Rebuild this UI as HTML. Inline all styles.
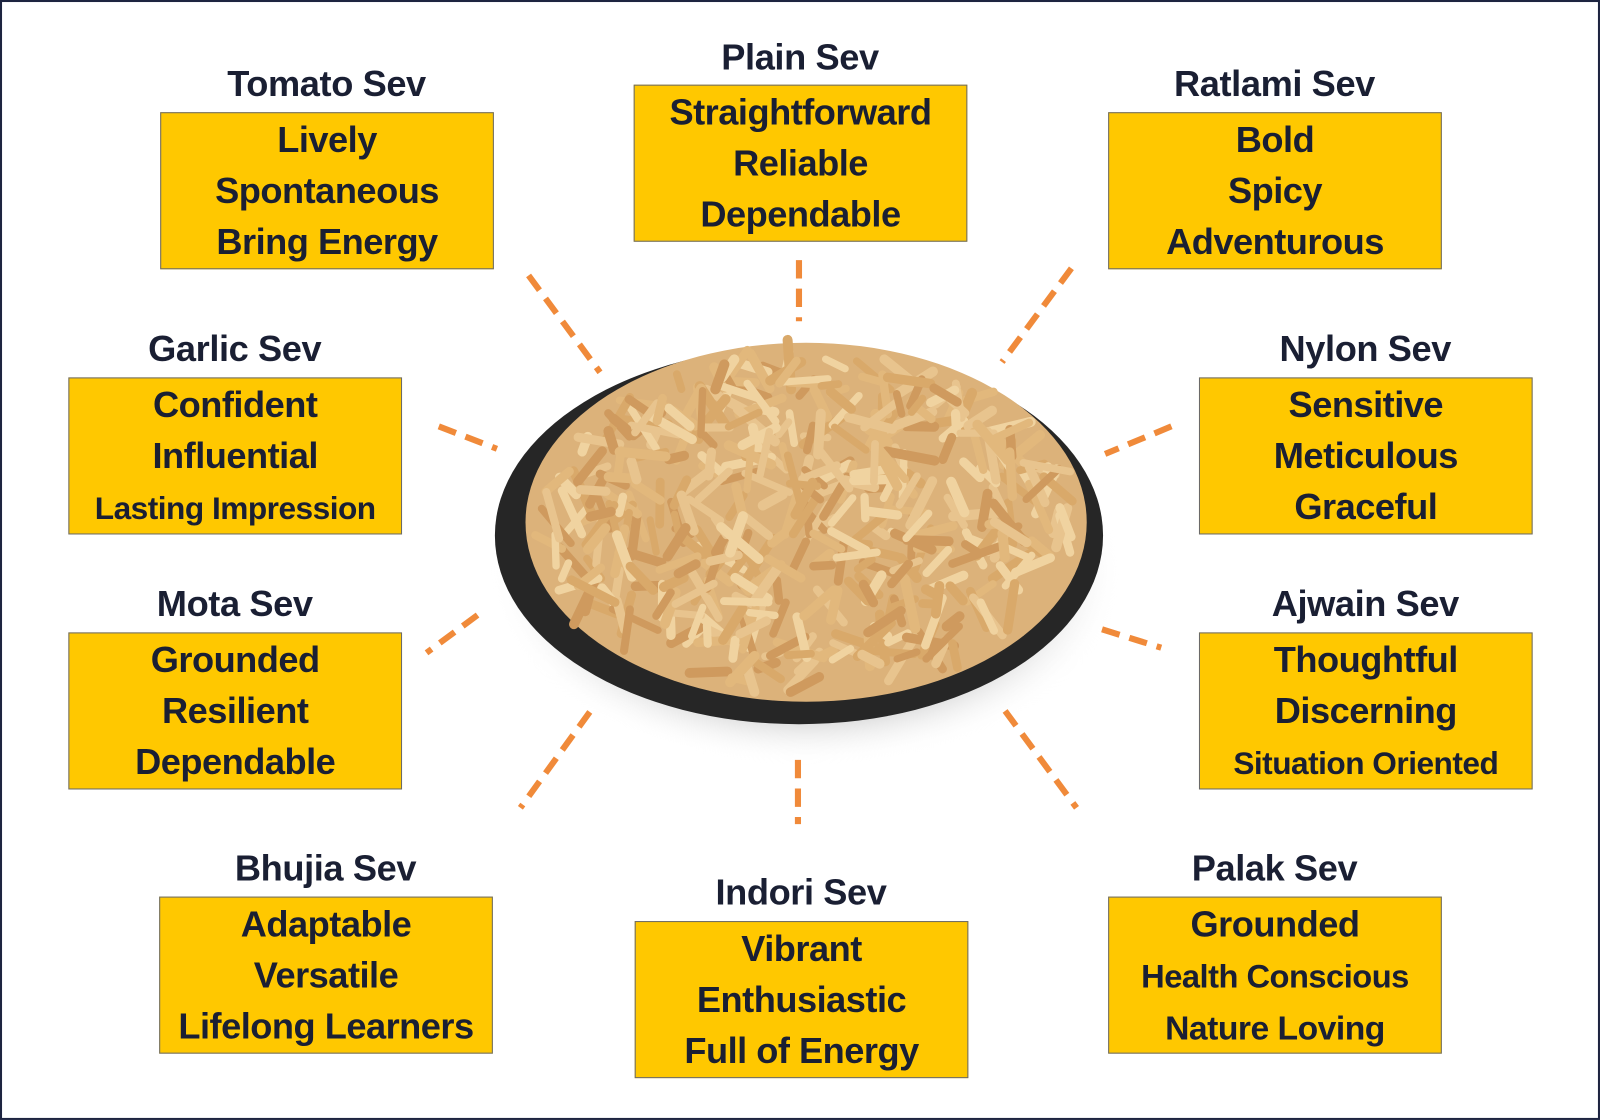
<!DOCTYPE html>
<html><head><meta charset="utf-8"><style>
html,body{margin:0;padding:0;background:#fff;}
#wrap{width:1568px;height:1098px;position:relative;transform:scale(1.0204,1.0200);transform-origin:0 0;overflow:hidden;}
#frame{position:absolute;left:0;top:0;width:1564px;height:1094px;border:2px solid #1d2440;}
.box{position:absolute;width:327px;height:154px;background:#ffc800;border:1.5px solid #6a6a6a;box-sizing:border-box;font-family:"Liberation Sans",sans-serif;font-weight:bold;color:#1a1f33;text-align:center;font-size:35.5px;line-height:50px;padding-top:1px;letter-spacing:-0.5px;white-space:nowrap;}
.sm{font-size:31px;}
.t{position:absolute;width:400px;text-align:center;font-family:"Liberation Sans",sans-serif;font-weight:bold;color:#1a1f33;font-size:35.5px;line-height:40px;letter-spacing:-0.4px;}
svg{position:absolute;left:0;top:0;}
</style></head><body><div id="wrap">
<svg width="1568" height="1098" id="s">
<defs>
<radialGradient id="sh" cx="50%" cy="50%" r="50%"><stop offset="70%" stop-color="#888" stop-opacity="0.5"/><stop offset="100%" stop-color="#fff" stop-opacity="0"/></radialGradient>
</defs>
<ellipse cx="790" cy="560" rx="310" ry="190" fill="url(#sh)"/>
<ellipse cx="783" cy="525" rx="298" ry="185" fill="#262626"/>
<ellipse cx="790" cy="512" rx="275" ry="176" fill="#dcb27a"/>
<g id="sev" stroke-linecap="round"></g>
<g stroke="#f08a3a" stroke-width="6" stroke-dasharray="18 10" fill="none">
<line x1="518" y1="270" x2="588" y2="365"/>
<line x1="783" y1="255" x2="783" y2="315"/>
<line x1="1050" y1="263" x2="982" y2="355"/>
<line x1="430" y1="418" x2="487" y2="440"/>
<line x1="1148" y1="418" x2="1083" y2="445"/>
<line x1="468" y1="603" x2="418" y2="640"/>
<line x1="1080" y1="617" x2="1138" y2="635"/>
<line x1="578" y1="698" x2="510" y2="792"/>
<line x1="782" y1="745" x2="782" y2="808"/>
<line x1="985" y1="697" x2="1055" y2="792"/>
</g>
</svg>
<div id="frame"></div>
<div class="t" style="left:120px;top:62px">Tomato Sev</div>
<div class="box" style="left:157px;top:110px">Lively<br>Spontaneous<br>Bring Energy</div>
<div class="t" style="left:584px;top:36px">Plain Sev</div>
<div class="box" style="left:621px;top:83px">Straightforward<br>Reliable<br>Dependable</div>
<div class="t" style="left:1049px;top:62px">Ratlami Sev</div>
<div class="box" style="left:1086px;top:110px">Bold<br>Spicy<br>Adventurous</div>
<div class="t" style="left:30px;top:322px">Garlic Sev</div>
<div class="box" style="left:67px;top:370px">Confident<br>Influential<br><span class="sm">Lasting Impression</span></div>
<div class="t" style="left:1138px;top:322px">Nylon Sev</div>
<div class="box" style="left:1175px;top:370px">Sensitive<br>Meticulous<br>Graceful</div>
<div class="t" style="left:30px;top:572px">Mota Sev</div>
<div class="box" style="left:67px;top:620px">Grounded<br>Resilient<br>Dependable</div>
<div class="t" style="left:1138px;top:572px">Ajwain Sev</div>
<div class="box" style="left:1175px;top:620px">Thoughtful<br>Discerning<br><span class="sm">Situation Oriented</span></div>
<div class="t" style="left:119px;top:831px">Bhujia Sev</div>
<div class="box" style="left:156px;top:879px">Adaptable<br>Versatile<br>Lifelong Learners</div>
<div class="t" style="left:585px;top:855px">Indori Sev</div>
<div class="box" style="left:622px;top:903px">Vibrant<br>Enthusiastic<br>Full of Energy</div>
<div class="t" style="left:1049px;top:831px">Palak Sev</div>
<div class="box" style="left:1086px;top:879px"><span>Grounded</span><br><span style="font-size:32px">Health Conscious</span><br><span style="font-size:33px">Nature Loving</span></div>
</div>
<script>
(function(){var g=document.getElementById('sev');var seed=7;function r(){seed=(seed*16807)%2147483647;return seed/2147483647;}
var cols=['#e8c48e','#d9a96a','#f0d3a0','#cf9a5e','#e2b87c'];var h='';
for(var i=0;i<420;i++){var a=r()*Math.PI*2,d=Math.sqrt(r());var cx=790+Math.cos(a)*d*255,cy=512+Math.sin(a)*d*160;var ang=r()*Math.PI*2,L=15+r()*35;
var dx=Math.cos(ang)*L/2,dy=Math.sin(ang)*L/2;h+='<line x1="'+(cx-dx)+'" y1="'+(cy-dy)+'" x2="'+(cx+dx)+'" y2="'+(cy+dy)+'" stroke="'+cols[i%5]+'" stroke-width="'+(7+r()*3)+'"/>';}
g.innerHTML=h;})();
</script>
</body></html>
